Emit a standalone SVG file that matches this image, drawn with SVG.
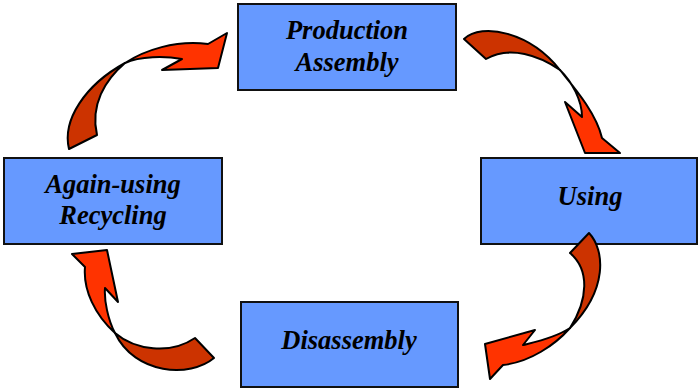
<svg xmlns="http://www.w3.org/2000/svg" width="699" height="389" viewBox="0 0 699 389">
  <style>
    .box { fill: #6699FF; stroke: #111111; stroke-width: 2; }
    .label { font-family: "Liberation Serif", "Times New Roman", serif; font-size: 26.5px; font-weight: bold; font-style: italic; fill: #000000; text-anchor: middle; }
    .back { fill: #CC3300; stroke: #000000; stroke-width: 2; stroke-linejoin: round; }
    .front { fill: #FF3300; stroke: #000000; stroke-width: 2; stroke-linejoin: round; }
  </style>
  <rect x="0" y="0" width="699" height="389" fill="#FFFFFF"/>

  <g id="node-production">
    <rect class="box" x="238" y="4" width="218" height="86"/>
    <text class="label" x="347" y="39">Production</text>
    <text class="label" x="347" y="71">Assembly</text>
  </g>
  <g id="node-using">
    <rect class="box" x="481" y="158" width="216" height="86"/>
    <text class="label" x="590" y="205">Using</text>
  </g>
  <g id="node-disassembly">
    <rect class="box" x="241" y="302" width="217" height="85"/>
    <text class="label" x="349" y="349">Disassembly</text>
  </g>
  <g id="node-recycling">
    <rect class="box" x="4" y="158" width="218" height="86"/>
    <text class="label" x="113" y="193">Again-using</text>
    <text class="label" x="113" y="224">Recycling</text>
  </g>

  <!-- twisted ribbon arrows: darker back face near the tail, bright face toward the head -->
  <g id="connectors">
    <g id="arrow-production-using">
      <path class="back" d="M464,39 C482,22 530,32 560,70 C540,56 510,45 486,59 Z"/>
      <path class="front" d="M560,70 C572,85 596,112 602,138 L620,153 L585,153 L565,102 L582,117 C582,100 572,82 560,70 Z"/>
    </g>
    <g id="arrow-using-disassembly">
      <path class="back" d="M589,233 C605,250 608,290 570,328 C588,300 590,270 570,253 Z"/>
      <path class="front" d="M570,328 C555,345 530,362 503,365 L490,379 L485,344 L535,330 L523,345 C535,342 555,338 570,328 Z"/>
    </g>
    <g id="arrow-disassembly-recycling">
      <path class="back" d="M214,358 C190,378 135,375 115,333 C135,350 170,355 195,338 Z"/>
      <path class="front" d="M115,333 C95,315 83,290 85,267 L72,254 L107,250 L118,302 L105,288 C104,300 108,320 115,333 Z"/>
    </g>
    <g id="arrow-recycling-production">
      <path class="back" d="M69,149 C62,120 85,85 125,63 C105,80 90,105 97,135 Z"/>
      <path class="front" d="M125,63 C145,50 175,40 208,44 L227,33 L218,68 L162,70 L182,59 C165,56 140,56 125,63 Z"/>
    </g>
  </g>
</svg>
